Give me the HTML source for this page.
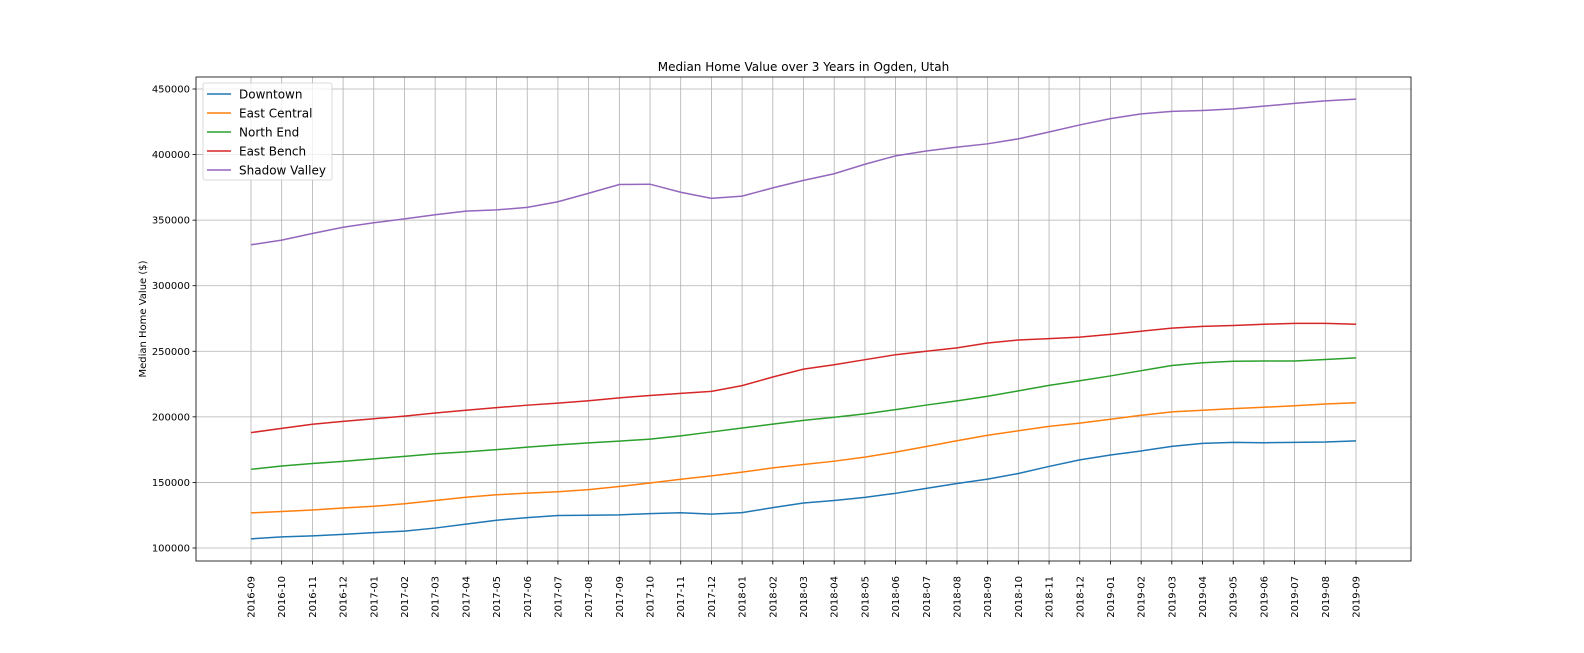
<!DOCTYPE html>
<html><head><meta charset="utf-8"><style>
body{margin:0;background:#fff;font-family:"Liberation Sans","DejaVu Sans",sans-serif}
svg text{font-family:"DejaVu Sans","Liberation Sans",sans-serif}
</style></head><body>
<svg id="chart" width="1584" height="648" viewBox="0 0 1584 648" xmlns="http://www.w3.org/2000/svg"></svg>
<script>
const categories=["2016-09","2016-10","2016-11","2016-12","2017-01","2017-02","2017-03","2017-04","2017-05","2017-06","2017-07","2017-08","2017-09","2017-10","2017-11","2017-12","2018-01","2018-02","2018-03","2018-04","2018-05","2018-06","2018-07","2018-08","2018-09","2018-10","2018-11","2018-12","2019-01","2019-02","2019-03","2019-04","2019-05","2019-06","2019-07","2019-08","2019-09"];
const downtown=[107000,108500,109200,110400,111700,112900,115200,118200,121200,123200,124800,125000,125300,126200,126900,125800,127000,130800,134300,136200,138600,141700,145500,149200,152500,156800,162200,167200,170900,174000,177500,179800,180500,180300,180500,180800,181700];
const eastCentral=[126800,127800,129000,130500,131800,133700,136200,138700,140600,141800,142900,144500,146900,149600,152400,155000,157900,161100,163700,166200,169300,173100,177400,181800,186000,189400,192700,195200,198200,201200,203800,205000,206300,207300,208500,209800,210800];
const northEnd=[160000,162500,164400,166100,168000,169900,171900,173300,175000,176900,178600,180200,181500,183000,185500,188500,191500,194500,197300,199700,202300,205500,209000,212200,215700,219800,224000,227500,231200,235200,239200,241300,242400,242600,242600,243700,245000];
const eastBench=[188000,191200,194400,196600,198600,200600,202900,205000,207000,208900,210500,212300,214500,216300,217900,219400,223800,230400,236400,239700,243600,247400,250000,252600,256300,258600,259700,260800,262900,265300,267700,269000,269700,270600,271300,271300,270600];
const shadowValley=[331200,334800,339800,344600,348000,351000,354100,356900,357800,359700,364000,370500,377200,377400,371300,366600,368300,374600,380300,385400,392600,399000,402700,405700,408200,412000,417200,422600,427400,431000,432900,433600,434800,436900,439000,440900,442300];
const seriesNames=["Downtown","East Central","North End","East Bench","Shadow Valley"];
const yTicks=[100000,150000,200000,250000,300000,350000,400000,450000];

const svg=document.getElementById('chart');
const NS='http://www.w3.org/2000/svg';
const L=196,R=1411,T=77,B=561;
const X0=251,X1=1356;
function xs(i){return X0+(X1-X0)*i/(categories.length-1);}
function ys(v){return 548-(v-100000)*(548-89)/350000;}
function mk(tag,attrs,parent){const e=document.createElementNS(NS,tag);for(const k in attrs)e.setAttribute(k,attrs[k]);(parent||svg).appendChild(e);return e;}

const grid=mk('g',{});


categories.forEach((c,i)=>{
  const x=xs(i);
  const l=mk('line',{x1:x,x2:x,y1:T,y2:B,stroke:'#b0b0b0','stroke-width':0.8},grid);
  
  
  const tk=mk('line',{x1:x,x2:x,y1:B,y2:B+3.5,stroke:'#000','stroke-width':0.8});
  
  
  const t=mk('text',{x:0,y:0,'font-size':10,'text-anchor':'end',transform:`translate(${x+3.5},${B+15}) rotate(-90)`,fill:'#000'});
  t.textContent=c;
  
  
});
yTicks.forEach(v=>{
  const y=ys(v);
  const l=mk('line',{x1:L,x2:R,y1:y,y2:y,stroke:'#b0b0b0','stroke-width':0.8},grid);
  
  
  const tk=mk('line',{x1:L-3.5,x2:L,y1:y,y2:y,stroke:'#000','stroke-width':0.8});
  
  
  const t=mk('text',{x:L-6,y:y+3.5,'font-size':10,'text-anchor':'end',fill:'#000'});
  t.textContent=v;
  
  
});

const colors=['#1f77b4','#ff7f0e','#2ca02c','#d62728','#9467bd'];
const data=[downtown,eastCentral,northEnd,eastBench,shadowValley];
data.forEach((arr,s)=>{
  const p=mk('polyline',{points:arr.map((v,i)=>xs(i)+','+ys(v)).join(' '),fill:'none',stroke:colors[s],'stroke-width':1.5});
  
  
});

const frame=mk('rect',{x:L,y:T,width:R-L,height:B-T,fill:'none',stroke:'#000','stroke-width':0.8});



const title=mk('text',{x:(L+R)/2,y:71,'font-size':12,'text-anchor':'middle',fill:'#000'});
title.textContent='Median Home Value over 3 Years in Ogden, Utah';



const yl=mk('text',{x:0,y:0,'font-size':10,'text-anchor':'middle',transform:`translate(146,${(T+B)/2}) rotate(-90)`,fill:'#000'});
yl.textContent='Median Home Value ($)';



const leg=mk('g',{});


mk('rect',{x:203,y:83,width:129,height:97,rx:2,fill:'#fff','fill-opacity':0.8,stroke:'#d0d0d0','stroke-width':0.8},leg);
seriesNames.forEach((n,i)=>{
  const y=94+i*19;
  const ln=mk('line',{x1:207,x2:231,y1:y,y2:y,stroke:colors[i],'stroke-width':1.5},leg);
  
  
  const t=mk('text',{x:239,y:y+4.5,'font-size':12,fill:'#000'},leg);
  t.textContent=n;
  
  
});
</script>
</body></html>
